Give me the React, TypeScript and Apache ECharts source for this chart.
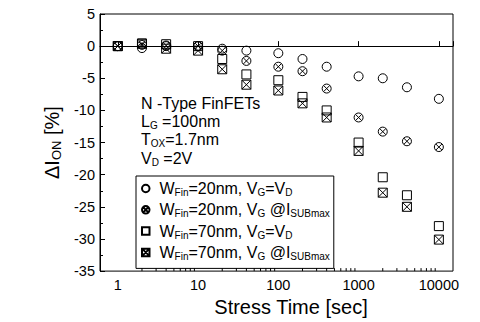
import React, { useEffect, useRef } from 'react';
import * as echarts from 'echarts';

// ---- data ----
const stressTimes = [1, 2, 4, 10, 20, 40, 100, 200, 400, 1000, 2000, 4000, 10000];
const w20VgEqVd = [0, -0.3, 0, 0, -0.4, -0.7, -1.1, -2.0, -3.2, -4.7, -5.0, -6.4, -8.2];
const w20VgIsubMax = [0, 0.2, 0.1, 0, -0.7, -2.3, -3.2, -3.9, -6.6, -11.1, -13.3, -14.8, -15.7];
const w70VgEqVd = [0, 0.4, 0.3, 0, -2.0, -4.4, -5.3, -7.9, -10.0, -15.0, -20.4, -23.2, -28.0];
const w70VgIsubMax = [0, 0.4, -0.4, -0.7, -3.6, -6.0, -6.9, -8.9, -11.1, -16.3, -22.8, -25.0, -30.1];

const seriesNames = [
  'WFin=20nm, VG=VD',
  'WFin=20nm, VG @ISUBmax',
  'WFin=70nm, VG=VD',
  'WFin=70nm, VG @ISUBmax',
];
const legendLabels = [
  'W{s|Fin}=20nm, V{s|G}=V{s|D}',
  'W{s|Fin}=20nm, V{s|G} @I{s|SUBmax}',
  'W{s|Fin}=70nm, V{s|G}=V{s|D}',
  'W{s|Fin}=70nm, V{s|G} @I{s|SUBmax}',
];
const annotationLines = ['N -Type FinFETs', 'L{s|G} =100nm', 'T{s|OX}=1.7nm', 'V{s|D} =2V'];

const xMin = 0.6;
const xMax = 15000;
const yMin = -35;
const yMax = 5;
const yInterval = 5;
const xMinorTickValues = [
  2, 3, 4, 5, 6, 7, 8, 9,
  20, 30, 40, 50, 60, 70, 80, 90,
  200, 300, 400, 500, 600, 700, 800, 900,
  2000, 3000, 4000, 5000, 6000, 7000, 8000, 9000,
];

const FONT = 'Liberation Sans, Arial, sans-serif';

const CIRCLE = 'path://M0,5A5,5,0,1,1,10,5A5,5,0,1,1,0,5Z';
const CIRCLE_X = 'path://M0,5A5,5,0,1,1,10,5A5,5,0,1,1,0,5ZM1.6,1.6L8.4,8.4M8.4,1.6L1.6,8.4';
const SQUARE = 'path://M0,0L10,0L10,10L0,10Z';
const SQUARE_X = 'path://M0,0L10,0L10,10L0,10ZM0,0L10,10M10,0L0,10';
const symbols = [CIRCLE, CIRCLE_X, SQUARE, SQUARE_X];
const seriesValues = [w20VgEqVd, w20VgIsubMax, w70VgEqVd, w70VgIsubMax];

export default function App() {
  const ref = useRef<HTMLDivElement>(null);
  useEffect(() => {
    if (!ref.current) return;
    const chart = echarts.init(ref.current, undefined, { renderer: 'svg' });
    const subRich = (size: number, lh: number) => ({
      fontSize: size,
      lineHeight: lh,
      verticalAlign: 'bottom',
      fontFamily: FONT,
      color: '#000',
    });
    const scatterSeries = seriesNames.map((name, i) => ({
      type: 'scatter',
      name,
      symbol: symbols[i],
      symbolSize: 9,
      symbolKeepAspect: true,
      itemStyle: { color: 'rgba(0,0,0,0)', borderColor: '#000', borderWidth: 1, opacity: 1 },
      data: stressTimes.map((t, j) => [t, seriesValues[i][j]]),
      z: 4,
    }));
    chart.setOption({
      animation: false,
      backgroundColor: '#fff',
      grid: {
        left: 100,
        right: 27,
        top: 14,
        bottom: 47,
        show: true,
        borderColor: '#000',
        borderWidth: 1,
        backgroundColor: 'transparent',
      },
      xAxis: {
        type: 'log',
        logBase: 10,
        min: xMin,
        max: xMax,
        axisLine: { lineStyle: { color: '#000', width: 1 } },
        axisTick: { inside: true, length: 5, lineStyle: { color: '#000' } },
        axisLabel: {
          color: '#000',
          fontSize: 14.5,
          fontFamily: FONT,
          margin: 6,
          formatter: (v: number) => {
            const l = Math.log10(v);
            return Math.abs(l - Math.round(l)) < 1e-6 ? String(Math.round(v)) : '';
          },
        },
        splitLine: { show: false },
        name: 'Stress Time [sec]',
        nameLocation: 'middle',
        nameGap: 16,
        nameTextStyle: { color: '#000', fontSize: 20, fontFamily: FONT, padding: [0, 0, 0, 29] },
      },
      yAxis: {
        type: 'value',
        min: yMin,
        max: yMax,
        interval: yInterval,
        axisLine: { lineStyle: { color: '#000', width: 1 } },
        axisTick: { inside: true, length: 5, lineStyle: { color: '#000' } },
        minorTick: { show: true, splitNumber: 2, length: 3, lineStyle: { color: '#000' } },
        axisLabel: { color: '#000', fontSize: 14.5, fontFamily: FONT, margin: 5 },
        splitLine: { show: false },
        name: 'ΔI{s|ON} [%]',
        nameLocation: 'middle',
        nameGap: 34,
        nameTextStyle: {
          color: '#000',
          fontSize: 20,
          fontFamily: FONT,
          lineHeight: 22,
          rich: { s: subRich(13, 11) },
        },
      },
      legend: {
        data: seriesNames,
        orient: 'vertical',
        left: 136,
        top: 176,
        padding: [3.5, 4, 7, 5],
        itemGap: 3.3,
        itemWidth: 7.5,
        itemHeight: 7.5,
        borderColor: '#000',
        borderWidth: 1,
        backgroundColor: '#fff',
        formatter: (name: string) => '{g| }' + legendLabels[seriesNames.indexOf(name)],
        textStyle: {
          color: '#000',
          fontSize: 16,
          fontFamily: FONT,
          lineHeight: 18,
          rich: {
            s: subRich(10, 10),
            g: { width: 5, fontSize: 16, lineHeight: 18 },
          },
        },
      },
      graphic: [
        {
          type: 'text',
          left: 141,
          top: 94,
          z: 10,
          style: {
            text: annotationLines.join('\n'),
            fontSize: 16,
            fontFamily: FONT,
            lineHeight: 18.3,
            fill: '#000',
            rich: {
              s: { fontSize: 10, lineHeight: 10, verticalAlign: 'bottom', fontFamily: FONT, fill: '#000' },
            },
          },
        },
      ],
      series: [
        ...scatterSeries,
        {
          type: 'custom',
          name: 'minorTicks',
          silent: true,
          clip: false,
          z: 5,
          data: xMinorTickValues.map((v) => [v, yMin]),
          renderItem: (_params: any, api: any) => {
            const p = api.coord([api.value(0), api.value(1)]);
            return {
              type: 'line',
              shape: { x1: p[0], y1: p[1], x2: p[0], y2: p[1] - 3 },
              style: { stroke: '#000', lineWidth: 1 },
            };
          },
        },
      ],
    });
    return () => chart.dispose();
  }, []);
  return (
    <div
      ref={ref}
      style={{ position: 'absolute', left: 0, top: 0, width: 480, height: 322 }}
    />
  );
}
